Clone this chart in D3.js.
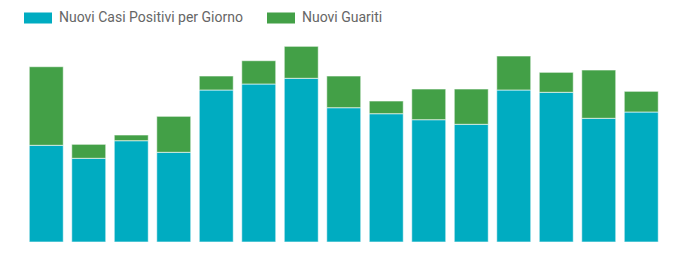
<!DOCTYPE html>
<meta charset="utf-8">
<script src="https://d3js.org/d3.v7.min.js"></script>
<style>
  body { margin: 0; background: #fff; }
</style>
<div id="chart"></div>
<script>

// data
var days = ["1","2","3","4","5","6","7","8","9","10","11","12","13","14","15"];
var positivi = [967, 837, 1013, 897, 1520, 1580, 1637, 1343, 1283, 1223, 1177, 1520, 1497, 1237, 1300];
var guariti  = [786, 140, 57, 360, 140, 233, 320, 317, 127, 307, 353, 340, 200, 483, 207];
var seriesNames = ["Nuovi Casi Positivi per Giorno", "Nuovi Guariti"];
var colors = ["#00acc1", "#43a047"];

var width = 675, height = 258;

var svg = d3.select("#chart")
  .append("svg")
    .attr("width", width)
    .attr("height", height);

var rows = days.map(function(d, i) {
  return { day: d, positivi: positivi[i], guariti: guariti[i] };
});

var stack = d3.stack().keys(["positivi", "guariti"]);
var layers = stack(rows);

var x = d3.scaleBand()
    .domain(days)
    .range([25, 662.5])
    .paddingInner(0.2)
    .paddingOuter(0.1);

var y = d3.scaleLinear()
    .domain([0, 2000])
    .range([242, 42]);

svg.selectAll("g.layer")
  .data(layers)
  .enter()
  .append("g")
    .attr("class", "layer")
    .style("fill", function(d, i) { return colors[i]; })
  .selectAll("rect")
  .data(function(d) { return d; })
  .enter()
  .append("rect")
    .attr("x", function(d) { return x(d.data.day); })
    .attr("y", function(d) { return y(d[1]); })
    .attr("width", x.bandwidth())
    .attr("height", function(d) { return y(d[0]) - y(d[1]); })
    .style("stroke", "rgba(255,255,255,0.6)")
    .style("stroke-width", 1);

// legend
var legend = svg.append("g");
var legendX = [24, 267];
seriesNames.forEach(function(name, i) {
  legend.append("rect")
    .attr("x", legendX[i]).attr("y", 12.5)
    .attr("width", 28).attr("height", 11)
    .style("fill", colors[i]);
  legend.append("text")
    .attr("x", legendX[i] + 35).attr("y", 18.5)
    .attr("dominant-baseline", "middle")
    .style("font-family", "Roboto, sans-serif")
    .style("font-size", "14px")
    .style("fill", "#666")
    .text(name);
});
</script>
